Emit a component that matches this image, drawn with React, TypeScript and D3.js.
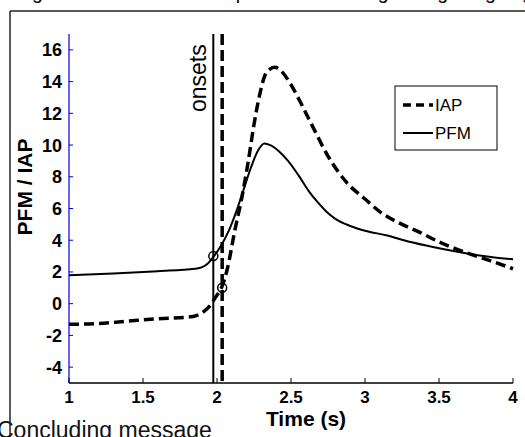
import * as d3 from "d3"

// time (s) and signals
const pfmTime = [1.0, 1.3, 1.6, 1.85, 1.9, 1.94, 1.98, 2.03, 2.08, 2.13, 2.18, 2.23, 2.28, 2.32, 2.36, 2.42, 2.48, 2.55, 2.62, 2.68, 2.74, 2.8, 2.9, 3.0, 3.15, 3.3, 3.5, 3.7, 3.85, 4.0]
const pfmValue = [1.8, 1.9, 2.05, 2.2, 2.3, 2.55, 3.0, 3.7, 4.6, 5.8, 7.2, 8.6, 9.7, 10.1, 10.0, 9.6, 9.0, 8.1, 7.1, 6.4, 5.8, 5.35, 4.9, 4.6, 4.3, 3.9, 3.5, 3.15, 2.95, 2.8]

const iapTime = [1.0, 1.2, 1.4, 1.6, 1.8, 1.86, 1.91, 1.95, 1.99, 2.03, 2.07, 2.12, 2.17, 2.21, 2.25, 2.28, 2.32, 2.36, 2.39, 2.43, 2.5, 2.58, 2.65, 2.75, 2.88, 3.0, 3.1, 3.25, 3.37, 3.5, 3.69, 3.85, 4.0]
const iapValue = [-1.3, -1.25, -1.1, -0.95, -0.85, -0.75, -0.5, -0.15, 0.4, 1.0, 2.2, 4.6, 6.8, 8.9, 11.3, 12.8, 14.3, 14.8, 14.9, 14.7, 13.8, 12.4, 11.1, 9.3, 7.6, 6.6, 5.8, 5.0, 4.5, 3.9, 3.2, 2.7, 2.2]

// onset markers
const onsetNames = ["PFM", "IAP"]
const onsetTime = [1.975, 2.035]
const onsetValue = [3.0, 1.0]

const xTicks = [1, 1.5, 2, 2.5, 3, 3.5, 4]
const yTicks = [-4, -2, 0, 2, 4, 6, 8, 10, 12, 14, 16]

const font = "'Liberation Sans', Arial, Helvetica, sans-serif"

export default function App() {
  const width = 525
  const height = 437

  const x = d3.scaleLinear().domain([1, 4]).range([69, 513])
  const y = d3.scaleLinear().domain([-5, 17]).range([383, 34])

  const line = d3.line<[number, number]>()
    .x(d => x(d[0]))
    .y(d => y(d[1]))
    .curve(d3.curveMonotoneX)

  const pfm = pfmTime.map((t, i) => [t, pfmValue[i]] as [number, number])
  const iap = iapTime.map((t, i) => [t, iapValue[i]] as [number, number])

  return (
    <svg width={width} height={height} style={{ position: "absolute", left: 0, top: 0, background: "#fff" }}>
      {/* slide frame and clipped slide text */}
      <text x={-15} y={-1} fontFamily={font} fontSize={19.5} fill="#000">
        Timing of the abdominal and pelvic floor during strong coughing
      </text>
      <text x={-3} y={438} fontFamily={font} fontSize={23} fill="#111">Concluding message</text>
      <line x1={10} x2={525} y1={11} y2={11} stroke="#222" strokeWidth={1.5} />
      <line x1={10} x2={10} y1={11} y2={437} stroke="#222" strokeWidth={1.5} />

      {/* onset lines */}
      <line x1={x(onsetTime[0])} x2={x(onsetTime[0])} y1={y(17)} y2={y(-5)} stroke="#000" strokeWidth={2} />
      <line x1={x(onsetTime[1])} x2={x(onsetTime[1])} y1={y(17)} y2={y(-5)} stroke="#000" strokeWidth={3.5} strokeDasharray="11,5" />
      <text transform={`translate(206,112) rotate(-90)`} fontFamily={font} fontSize={23} fill="#000">onsets</text>

      {/* curves */}
      <path d={line(iap) ?? ""} fill="none" stroke="#000" strokeWidth={3.5} strokeDasharray="10,5" />
      <path d={line(pfm) ?? ""} fill="none" stroke="#000" strokeWidth={2} />
      {onsetNames.map((n, i) => (
        <circle key={n} cx={x(onsetTime[i])} cy={y(onsetValue[i])} r={4.5} fill="none" stroke="#000" strokeWidth={1.5} />
      ))}

      {/* y axis */}
      <line x1={x(1)} x2={x(1)} y1={y(17)} y2={y(-5)} stroke="#0000cc" strokeWidth={1.2} />
      {yTicks.map(t => (
        <g key={t}>
          <line x1={x(1)} x2={x(1) + 4} y1={y(t)} y2={y(t)} stroke="#0000cc" strokeWidth={1} />
          <text x={x(1) - 7} y={y(t)} dy="0.36em" textAnchor="end" fontFamily={font} fontWeight="bold" fontSize={18} fill="#000">{t}</text>
        </g>
      ))}

      {/* x axis */}
      <line x1={x(1)} x2={x(4)} y1={y(-5)} y2={y(-5)} stroke="#000" strokeWidth={1.5} />
      {xTicks.map(t => (
        <g key={t}>
          <line x1={x(t)} x2={x(t)} y1={y(-5)} y2={y(-5) - 5} stroke="#000" strokeWidth={1} />
          <text x={x(t)} y={403} textAnchor="middle" fontFamily={font} fontWeight="bold" fontSize={17} fill="#000">{t}</text>
        </g>
      ))}

      <text x={306} y={426} textAnchor="middle" fontFamily={font} fontWeight="bold" fontSize={21} fill="#000">Time (s)</text>
      <text transform={`translate(32,187) rotate(-90)`} textAnchor="middle" fontFamily={font} fontWeight="bold" fontSize={21} fill="#000">PFM / IAP</text>

      {/* legend */}
      <rect x={395} y={86} width={102} height={64} fill="#fff" stroke="#000" strokeWidth={1} />
      <line x1={403} x2={433} y1={105} y2={105} stroke="#000" strokeWidth={3.5} strokeDasharray="8,5" />
      <text x={435} y={111} fontFamily={font} fontSize={17} fill="#000">IAP</text>
      <line x1={403} x2={433} y1={133} y2={133} stroke="#000" strokeWidth={2} />
      <text x={435} y={139} fontFamily={font} fontSize={17} fill="#000">PFM</text>
    </svg>
  )
}
